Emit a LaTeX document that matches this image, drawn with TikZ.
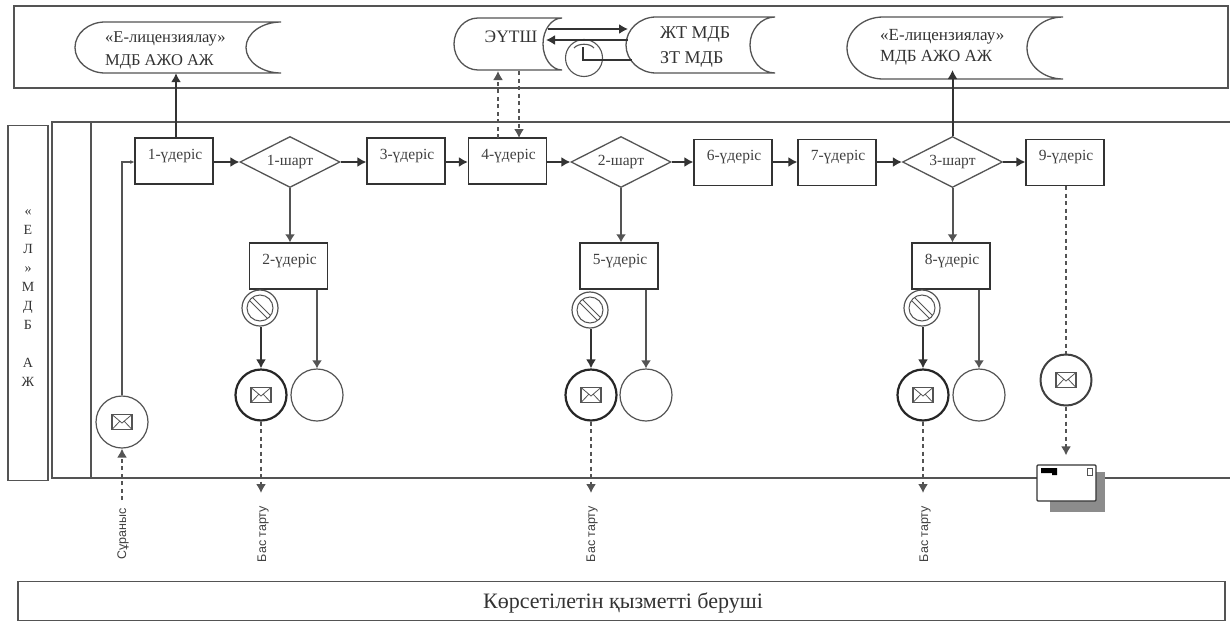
\documentclass[tikz,border=0pt]{standalone}
\usepackage{fontspec}
\setmainfont{Liberation Serif}
\setsansfont{Liberation Sans}
\usetikzlibrary{shapes.geometric,arrows.meta,calc}
\definecolor{ln}{gray}{0.33}
\definecolor{lnd}{gray}{0.2}
\tikzset{
  x=1pt,y=-1pt,
  frame/.style={draw=ln,line width=1.5pt},
  stepbox/.style={draw=lnd,line width=1.3pt,fill=white,minimum width=78pt,minimum height=46pt,inner sep=0pt},
  steptext/.style={font=\fontsize{15.5}{17}\selectfont,text=black!75,inner sep=0pt},
  gate/.style={diamond,aspect=2,draw=ln,line width=1.3pt,fill=white,minimum width=100pt,minimum height=51pt,inner sep=0pt,font=\fontsize{15.5}{17}\selectfont,text=black!75},
  flow/.style={draw=lnd,line width=1.6pt,-{Latex[length=9pt,width=10pt]}},
  thickflow/.style={draw=ln,line width=2pt,-{Latex[length=8pt,width=10pt]}},
  dashflow/.style={draw=ln,line width=1.6pt,dash pattern=on 4pt off 3.5pt,-{Latex[length=9pt,width=10pt]}},
  evt/.style={circle,draw=ln,line width=1.2pt,fill=white,minimum size=52pt,inner sep=0pt},
  evtb/.style={circle,draw=black!85,line width=2.2pt,fill=white,minimum size=51pt,inner sep=0pt},
  dot/.style={circle,draw=ln,line width=1.2pt,minimum size=36pt,inner sep=0pt,fill=white},
  vlabel/.style={rotate=90,font=\sffamily\fontsize{12.5}{14}\selectfont,text=black!75,inner sep=0pt},
  doclabel/.style={font=\fontsize{16.5}{23}\selectfont,text=black!80,align=left,inner sep=0pt},
}
% doc shape: name, x1, y1, x2, y2, concave x, bulge radius
\newcommand{\storeshape}[7]{%
  \draw[draw=ln,line width=1.3pt,fill=white]
    (#4,#3) -- (#2+#7,#3) .. controls (#2+#7*0.45,#3) and (#2,#3*0.775+#5*0.225) .. (#2,#3*0.5+#5*0.5)
    .. controls (#2,#3*0.225+#5*0.775) and (#2+#7*0.45,#5) .. (#2+#7,#5) -- (#4,#5)
    .. controls (#4*0.45+#6*0.55,#5) and (#6,#3*0.225+#5*0.775) .. (#6,#3*0.5+#5*0.5)
    .. controls (#6,#3*0.775+#5*0.225) and (#4*0.45+#6*0.55,#3) .. (#4,#3);
  \node[minimum width=#4-#2,minimum height=#5-#3,inner sep=0pt] (#1) at ({(#2+#4)/2},{(#3+#5)/2}) {};
}
\newcommand{\envelope}[1]{%
  \draw[draw=ln,line width=1.1pt,fill=white] ($(#1)+(-10,-7.5)$) rectangle ($(#1)+(10,7.5)$);
  \draw[draw=ln,line width=.8pt] ($(#1)+(-10,-7.5)$) -- ($(#1)+(0,1)$) -- ($(#1)+(10,-7.5)$)
    ($(#1)+(-10,7.5)$) -- ($(#1)+(-2,-1)$) ($(#1)+(10,7.5)$) -- ($(#1)+(2,-1)$);
}
\newcommand{\prohibit}[1]{%
  \draw[draw=ln,line width=1pt] (#1) circle (13pt);
  \draw[draw=ln,line width=1pt] ($(#1)+(-10,-7)$) -- ($(#1)+(7,10)$) ($(#1)+(-7,-10)$) -- ($(#1)+(10,7)$);
}
\begin{document}
\begin{tikzpicture}
\useasboundingbox (0,0) rectangle (1230,621);
\fill[white] (0,0) rectangle (1230,621);
% frames
\draw[frame] (14,6) rectangle (1228,88);
\node[draw=ln,line width=1.5pt,minimum width=40pt,minimum height=355pt,inner sep=0pt] (lanelabel) at (28,303) {};
\draw[frame] (1231,122) -- (52,122) -- (52,478) -- (1231,478);
\draw[draw=ln,line width=1.3pt] (91,122) -- (91,478);
\node[font=\fontsize{14}{19}\selectfont,text=black!80,align=center,inner sep=0pt,anchor=north] (lanetext) at (28,209)
  {«\\Е\\Л\\»\\М\\Д\\Б\\[19pt]А\\Ж};
\node[draw=ln,line width=1.3pt,minimum width=1207pt,minimum height=39pt,inner sep=0pt] (provider) at (621.5,601) {};
\node[font=\fontsize{22}{24}\selectfont,text=black!80,inner sep=0pt] (providertext) at (623,603) {Көрсетілетін қызметті беруші};

% stores
\storeshape{st1}{75}{22}{281}{73}{246}{30}
\node[doclabel,anchor=west] at (105,50) {«Е-лицензиялау»\\МДБ АЖО АЖ};
\storeshape{st2}{454}{18}{562}{70}{543}{24}
\node[doclabel,anchor=center,font=\fontsize{17.5}{20}\selectfont] at (511,37) {ЭҮТШ};
\storeshape{st3}{626}{17}{775}{73}{750}{30}
\node[doclabel,anchor=west,font=\fontsize{18}{25}\selectfont] at (660,47) {ЖТ МДБ\\ЗТ МДБ};
\storeshape{st4}{847}{17}{1063}{79}{1027}{36}
\node[doclabel,anchor=west,font=\fontsize{17}{21}\selectfont] at (880,47) {«Е-лицензиялау»\\МДБ АЖО АЖ};

% steps
\node[stepbox] (s1) at (174,161) {};
\node[stepbox] (s3) at (406,161) {};
\node[stepbox] (s4) at (507.5,161) {};
\node[stepbox] (s6) at (733,162.5) {};
\node[stepbox] (s7) at (837,162.5) {};
\node[stepbox] (s9) at (1065,162.5) {};
\node[stepbox] (s2) at (288.5,266) {};
\node[stepbox] (s5) at (619,266) {};
\node[stepbox] (s8) at (951,266) {};
\foreach \n/\t in {s1/1,s3/3,s4/4,s6/6,s7/7,s9/9,s2/2,s5/5,s8/8}{
  \node[steptext] at ($(\n.center)+(1,-5)$) {\t-үдеріс};
}
\node[gate] (g1) at (290,162) {\raisebox{-3pt}{1-шарт}};
\node[gate] (g2) at (621,162) {\raisebox{-3pt}{2-шарт}};
\node[gate] (g3) at (952.5,162) {\raisebox{-3pt}{3-шарт}};

% events
\node[evt] (start) at (122,422) {}; \envelope{start}
\node[evtb] (m1) at (261,395) {}; \envelope{m1}
\node[evt] (e1) at (317,395) {};
\node[evtb] (m2) at (591,395) {}; \envelope{m2}
\node[evt] (e2) at (646,395) {};
\node[evtb] (m3) at (923,395) {}; \envelope{m3}
\node[evt] (e3) at (979,395) {};
\node[evtb,draw=black!75,line width=2pt] (m4) at (1066,380) {}; \envelope{m4}
\node[dot] (p1) at (260,308) {}; \prohibit{p1}
\node[dot] (p2) at (590,310) {}; \prohibit{p2}
\node[dot] (p3) at (922,308) {}; \prohibit{p3}

% flows along the row
\foreach \a/\b in {s1/g1,g1/s3,s3/s4,s4/g2,g2/s6,s6/s7,s7/g3,g3/s9}{
  \draw[flow] (\a.east |- 0,162) -- (\b.west |- 0,162);
}
\draw[draw=ln,line width=1.3pt,-{Latex[length=4pt,width=4pt]}] (start.north) -- (start.north |- 0,162) -- (s1.west |- 0,162);
\draw[flow] ([xshift=2pt]s1.north) -- ([xshift=2pt]s1.north |- st1.south);
\draw[flow,line width=2pt] (g3.north) -- (g3.north |- 0,70);
\draw[thickflow] (g1.south) -- (g1.south |- s2.north);
\draw[thickflow] (g2.south) -- (g2.south |- s5.north);
\draw[thickflow] (g3.south) -- (g3.south |- s8.north);
\draw[thickflow] (e1.north |- s2.south) -- (e1.north);
\draw[thickflow] (e2.north |- s5.south) -- (e2.north);
\draw[thickflow] (e3.north |- s8.south) -- (e3.north);
\draw[flow,line width=1.7pt] (m1.north |- p1.south) -- (m1.north);
\draw[flow,line width=1.7pt] (m2.north |- p2.south) -- (m2.north);
\draw[flow,line width=1.7pt] (m3.north |- p3.south) -- (m3.north);

% store links
\draw[dashflow] (498,138) -- (498,71);
\draw[dashflow] (519,71) -- (519,138);
\node[circle,draw=ln,line width=1.1pt,minimum size=37pt,inner sep=0pt] (clock) at (584,58) {};
\draw[flow] (548,29) -- (628,29);
\draw[flow] (628,40) -- (546,40);
\draw[draw=lnd,line width=1.6pt] (632,60) -- (583,60) -- (583,47);
\draw[draw=ln,line width=1.1pt] (574,48) .. controls (578,43) and (590,43) .. (594,48);

% message flows
\coordinate (reqin) at (122,500);
\draw[dashflow] (reqin) -- (start.south);
\node[vlabel] (req) at (123,534) {Сұраныс};
\coordinate (r1) at (262,493);
\coordinate (r2) at (591,493);
\coordinate (r3) at (923,493);
\draw[dashflow] (m1.south) -- (m1.south |- r1);
\draw[dashflow] (m2.south) -- (m2.south |- r2);
\draw[dashflow] (m3.south) -- (m3.south |- r3);
\node[vlabel] (t1) at (263,534) {Бас тарту};
\node[vlabel] (t2) at (592,534) {Бас тарту};
\node[vlabel] (t3) at (925,534) {Бас тарту};
\draw[dashflow,-] (s9.south -| m4.north) -- (m4.north);

% mail document
\fill[black!45] (1050,472) rectangle (1105,512);
\node[draw=lnd,line width=1.2pt,fill=white,rounded corners=1pt,minimum width=59pt,minimum height=36pt,inner sep=0pt] (mail) at (1066.5,483) {};
\fill[black] (1041,468) rectangle (1057,473) (1052,468) rectangle (1057,475);
\draw[draw=ln,line width=1pt] (1087,468) rectangle (1092,475);
\draw[dashflow] (m4.south) -- ($(mail.north -| m4.south)+(0,-9)$);
\end{tikzpicture}
\end{document}
